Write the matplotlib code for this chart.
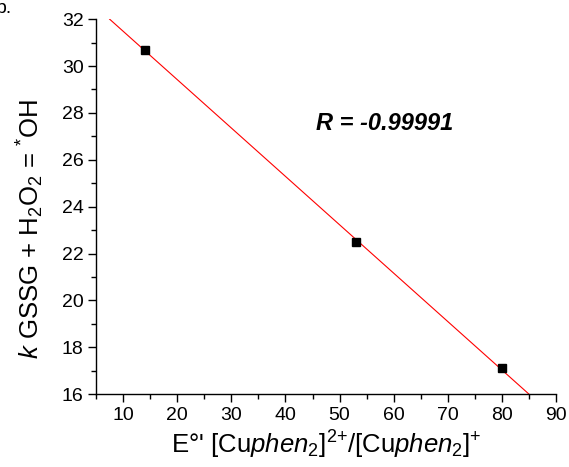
import numpy as np
import matplotlib
matplotlib.use("Agg")
import matplotlib.pyplot as plt
from matplotlib.ticker import MultipleLocator

plt.rcParams['font.family'] = ['Liberation Sans', 'DejaVu Sans']
plt.rcParams['mathtext.fontset'] = 'custom'
plt.rcParams['mathtext.rm'] = 'Liberation Sans'
plt.rcParams['mathtext.it'] = 'Liberation Sans:italic'
plt.rcParams['mathtext.bf'] = 'Liberation Sans:bold'

# formal potential vs. rate constant
potential = [14, 53, 80]
rate_k = [30.7, 22.5, 17.1]
r_text = "R = -0.99991"

x_ticks = [10, 20, 30, 40, 50, 60, 70, 80, 90]
y_ticks = [16, 18, 20, 22, 24, 26, 28, 30, 32]

fig = plt.figure(figsize=(5.69, 4.67), dpi=100)
ax = fig.add_axes([0.169, 0.156, 0.808, 0.803])

# linear fit, drawn across the span where it lies inside the y range
slope, intercept = np.polyfit(potential, rate_k, 1)
ylo, yhi = 16, 32
x_start = (yhi - intercept) / slope
x_end = (ylo - intercept) / slope
xs = np.array([x_start, x_end])
ax.plot(xs, slope * xs + intercept, color='red', lw=0.8, zorder=2)

ax.plot(potential, rate_k, ls='none', marker='s', ms=6,
        color='black', zorder=3)

ax.set_xlim(5, 90)
ax.set_ylim(ylo, yhi)
ax.set_xticks(x_ticks)
ax.set_yticks(y_ticks)
ax.xaxis.set_minor_locator(MultipleLocator(5))
ax.yaxis.set_minor_locator(MultipleLocator(1))

for s in ('top', 'right'):
    ax.spines[s].set_visible(False)
for s in ('left', 'bottom'):
    ax.spines[s].set_linewidth(1.0)

ax.tick_params(which='major', direction='out', length=6, width=1.0,
               labelsize=14, pad=3)
ax.tick_params(which='minor', direction='out', length=3.5, width=1.0)

ax.set_xlabel(r"E°' [Cu$\mathit{phen}_{2}$]$^{2{+}}$/[Cu$\mathit{phen}_{2}$]$^{+}$",
              fontsize=18.5, labelpad=4)
ax.set_ylabel(r"$\mathit{k}$ GSSG + H$_2$O$_2$ = $^{*}$OH", fontsize=18.5)
ax.yaxis.set_label_coords(-0.11, 0.44)

ax.text(0.628, 0.723, r_text, transform=ax.transAxes, fontsize=17,
        fontweight='bold', fontstyle='italic', ha='center', va='center')

fig.text(12 / 569, 1 - 13 / 467, "b.", fontsize=14, ha='right',
         va='baseline')

fig.savefig("out.png", dpi=100)
